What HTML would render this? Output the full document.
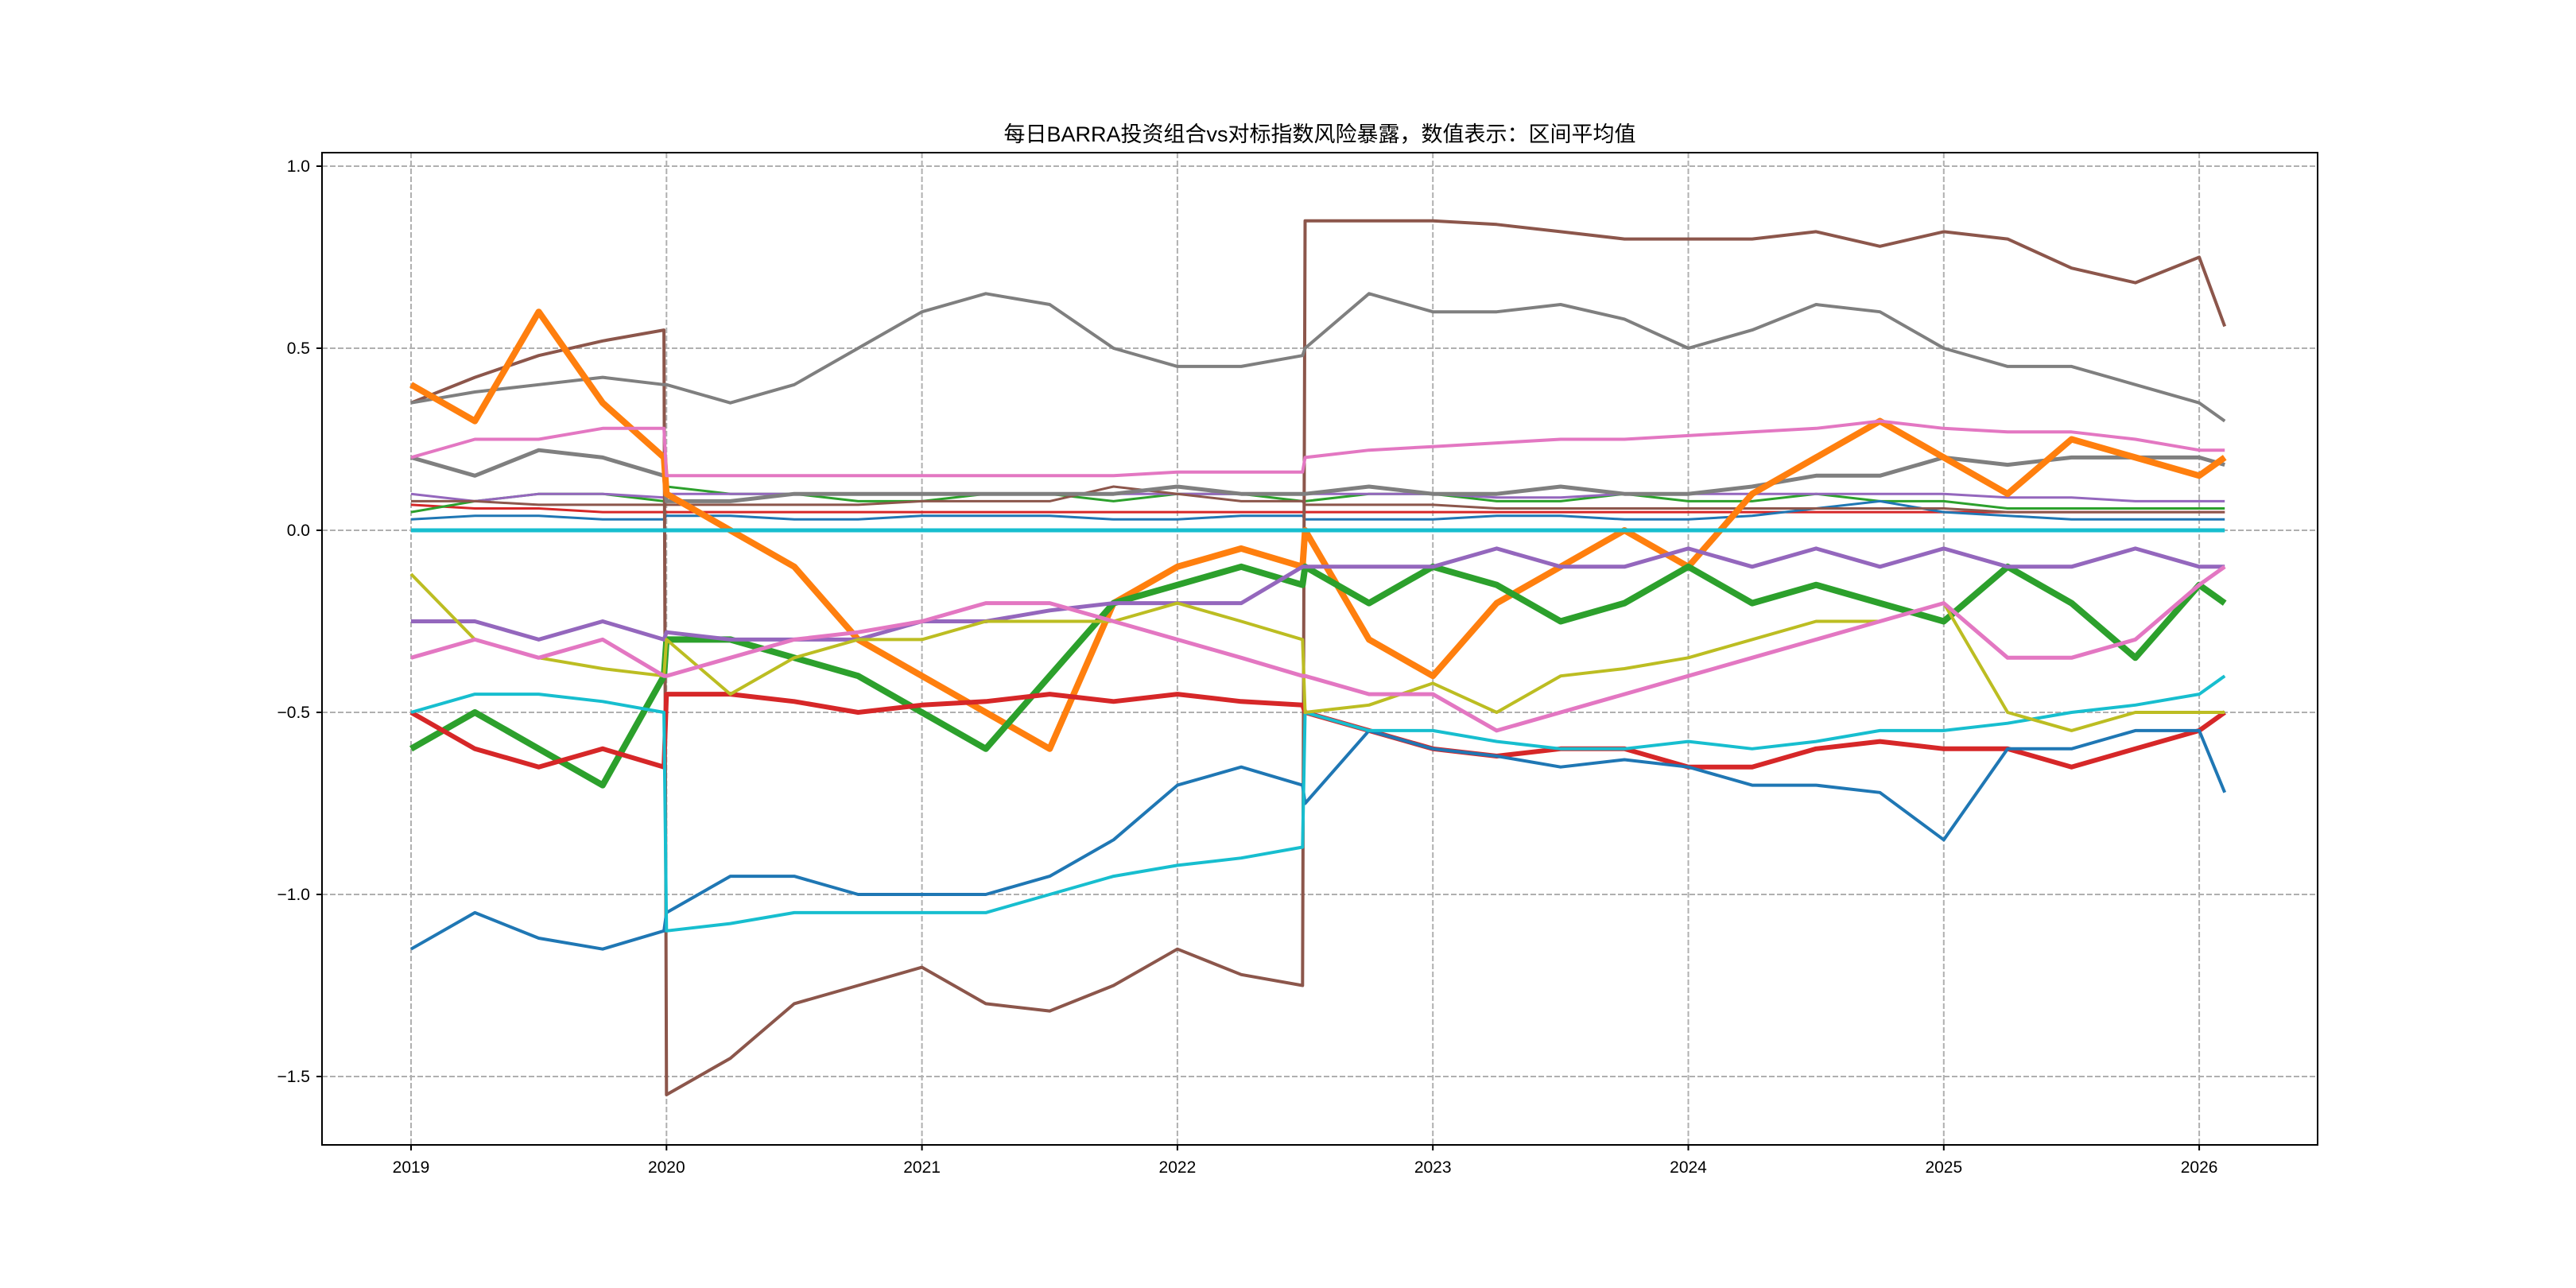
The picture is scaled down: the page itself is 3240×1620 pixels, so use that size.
<!DOCTYPE html>
<html><head><meta charset="utf-8">
<style>
html,body{margin:0;padding:0;background:#fff;}
svg{display:block;font-family:"Liberation Sans","Noto Sans CJK SC",sans-serif;}
</style></head>
<body>
<svg id="chart" width="3240" height="1620" viewBox="0 0 3240 1620" xmlns="http://www.w3.org/2000/svg">
<rect x="0" y="0" width="3240" height="1620" fill="#fff"/>
<text x="1660" y="178" text-anchor="middle" font-size="27" fill="#000">每日BARRA投资组合vs对标指数风险暴露，数值表示：区间平均值</text>
<g id="grid"></g>
<g id="series"></g>
<rect x="405" y="192" width="2510" height="1248" fill="none" stroke="#000" stroke-width="2"/>
<g id="axes"></g>
</svg>
<script>
const dates=[2019.0,2019.25,2019.5,2019.75,2019.99,2020.0,2020.25,2020.5,2020.75,2021.0,2021.25,2021.5,2021.75,2022.0,2022.25,2022.49,2022.5,2022.75,2023.0,2023.25,2023.5,2023.75,2024.0,2024.25,2024.5,2024.75,2025.0,2025.25,2025.5,2025.75,2026.0,2026.1];
const yTicks=[1.0,0.5,0.0,-0.5,-1.0,-1.5];
const yTickLabels=["1.0","0.5","0.0","−0.5","−1.0","−1.5"];
const xTicks=[2019,2020,2021,2022,2023,2024,2025,2026];
const xTickLabels=["2019","2020","2021","2022","2023","2024","2025","2026"];

const brownVals=[0.35,0.42,0.48,0.52,0.55,-1.55,-1.45,-1.3,-1.25,-1.2,-1.3,-1.32,-1.25,-1.15,-1.22,-1.25,0.85,0.85,0.85,0.84,0.82,0.8,0.8,0.8,0.82,0.78,0.82,0.8,0.72,0.68,0.75,0.56];
const greyVals=[0.35,0.38,0.4,0.42,0.4,0.4,0.35,0.4,0.5,0.6,0.65,0.62,0.5,0.45,0.45,0.48,0.5,0.65,0.6,0.6,0.62,0.58,0.5,0.55,0.62,0.6,0.5,0.45,0.45,0.4,0.35,0.3];
const grey2Vals=[0.2,0.15,0.22,0.2,0.15,0.08,0.08,0.1,0.1,0.1,0.1,0.1,0.1,0.12,0.1,0.1,0.1,0.12,0.1,0.1,0.12,0.1,0.1,0.12,0.15,0.15,0.2,0.18,0.2,0.2,0.2,0.18];
const orangeVals=[0.4,0.3,0.6,0.35,0.2,0.1,0.0,-0.1,-0.3,-0.4,-0.5,-0.6,-0.2,-0.1,-0.05,-0.1,0.0,-0.3,-0.4,-0.2,-0.1,0.0,-0.1,0.1,0.2,0.3,0.2,0.1,0.25,0.2,0.15,0.2];
const greenVals=[-0.6,-0.5,-0.6,-0.7,-0.4,-0.3,-0.3,-0.35,-0.4,-0.5,-0.6,-0.4,-0.2,-0.15,-0.1,-0.15,-0.1,-0.2,-0.1,-0.15,-0.25,-0.2,-0.1,-0.2,-0.15,-0.2,-0.25,-0.1,-0.2,-0.35,-0.15,-0.2];
const redVals=[-0.5,-0.6,-0.65,-0.6,-0.65,-0.45,-0.45,-0.47,-0.5,-0.48,-0.47,-0.45,-0.47,-0.45,-0.47,-0.48,-0.5,-0.55,-0.6,-0.62,-0.6,-0.6,-0.65,-0.65,-0.6,-0.58,-0.6,-0.6,-0.65,-0.6,-0.55,-0.5];
const blueVals=[-1.15,-1.05,-1.12,-1.15,-1.1,-1.05,-0.95,-0.95,-1.0,-1.0,-1.0,-0.95,-0.85,-0.7,-0.65,-0.7,-0.75,-0.55,-0.6,-0.62,-0.65,-0.63,-0.65,-0.7,-0.7,-0.72,-0.85,-0.6,-0.6,-0.55,-0.55,-0.72];
const cyanVals=[-0.5,-0.45,-0.45,-0.47,-0.5,-1.1,-1.08,-1.05,-1.05,-1.05,-1.05,-1.0,-0.95,-0.92,-0.9,-0.87,-0.5,-0.55,-0.55,-0.58,-0.6,-0.6,-0.58,-0.6,-0.58,-0.55,-0.55,-0.53,-0.5,-0.48,-0.45,-0.4];
const cyanZeroVals=[0,0,0,0,0,0,0,0,0,0,0,0,0,0,0,0,0,0,0,0,0,0,0,0,0,0,0,0,0,0,0,0];
const purpleVals=[-0.25,-0.25,-0.3,-0.25,-0.3,-0.28,-0.3,-0.3,-0.3,-0.25,-0.25,-0.22,-0.2,-0.2,-0.2,-0.1,-0.1,-0.1,-0.1,-0.05,-0.1,-0.1,-0.05,-0.1,-0.05,-0.1,-0.05,-0.1,-0.1,-0.05,-0.1,-0.1];
const oliveVals=[-0.12,-0.3,-0.35,-0.38,-0.4,-0.3,-0.45,-0.35,-0.3,-0.3,-0.25,-0.25,-0.25,-0.2,-0.25,-0.3,-0.5,-0.48,-0.42,-0.5,-0.4,-0.38,-0.35,-0.3,-0.25,-0.25,-0.2,-0.5,-0.55,-0.5,-0.5,-0.5];
const pinkVals=[-0.35,-0.3,-0.35,-0.3,-0.4,-0.4,-0.35,-0.3,-0.28,-0.25,-0.2,-0.2,-0.25,-0.3,-0.35,-0.4,-0.4,-0.45,-0.45,-0.55,-0.5,-0.45,-0.4,-0.35,-0.3,-0.25,-0.2,-0.35,-0.35,-0.3,-0.15,-0.1];
const pink2Vals=[0.2,0.25,0.25,0.28,0.28,0.15,0.15,0.15,0.15,0.15,0.15,0.15,0.15,0.16,0.16,0.16,0.2,0.22,0.23,0.24,0.25,0.25,0.26,0.27,0.28,0.3,0.28,0.27,0.27,0.25,0.22,0.22];
const smallRedVals=[0.07,0.06,0.06,0.05,0.05,0.05,0.05,0.05,0.05,0.05,0.05,0.05,0.05,0.05,0.05,0.05,0.05,0.05,0.05,0.05,0.05,0.05,0.05,0.05,0.05,0.05,0.05,0.05,0.05,0.05,0.05,0.05];
const smallGreenVals=[0.05,0.08,0.1,0.1,0.08,0.12,0.1,0.1,0.08,0.08,0.1,0.1,0.08,0.1,0.1,0.08,0.08,0.1,0.1,0.08,0.08,0.1,0.08,0.08,0.1,0.08,0.08,0.06,0.06,0.06,0.06,0.06];
const smallPurpleVals=[0.1,0.08,0.1,0.1,0.09,0.1,0.1,0.1,0.1,0.1,0.1,0.1,0.1,0.1,0.1,0.1,0.1,0.1,0.1,0.09,0.09,0.1,0.1,0.1,0.1,0.1,0.1,0.09,0.09,0.08,0.08,0.08];
const smallBlueVals=[0.03,0.04,0.04,0.03,0.03,0.04,0.04,0.03,0.03,0.04,0.04,0.04,0.03,0.03,0.04,0.04,0.03,0.03,0.03,0.04,0.04,0.03,0.03,0.04,0.06,0.08,0.05,0.04,0.03,0.03,0.03,0.03];
const smallBrownVals=[0.08,0.08,0.07,0.07,0.07,0.07,0.07,0.07,0.07,0.08,0.08,0.08,0.12,0.1,0.08,0.08,0.07,0.07,0.07,0.06,0.06,0.06,0.06,0.06,0.06,0.06,0.06,0.05,0.05,0.05,0.05,0.05];

const NS="http://www.w3.org/2000/svg";
function xs(t){return 517+(t-2019)*321.3;}
function ys(v){return 667-v*458;}
const grid=document.getElementById('grid'),axes=document.getElementById('axes'),ser=document.getElementById('series');

yTicks.forEach((v,i)=>{
  const y=ys(v);
  const g=document.createElementNS(NS,'line');
  g.setAttribute('x1',405);g.setAttribute('x2',2915);g.setAttribute('y1',y);g.setAttribute('y2',y);
  g.setAttribute('stroke','#b0b0b0');g.setAttribute('stroke-width',2);g.setAttribute('stroke-dasharray','7,3');
  
  
  grid.appendChild(g);
  const t=document.createElementNS(NS,'line');
  t.setAttribute('x1',398);t.setAttribute('x2',405);t.setAttribute('y1',y);t.setAttribute('y2',y);
  t.setAttribute('stroke','#000');t.setAttribute('stroke-width',2);
  
  
  axes.appendChild(t);
  const l=document.createElementNS(NS,'text');
  l.setAttribute('x',390);l.setAttribute('y',y+7);l.setAttribute('text-anchor','end');l.setAttribute('font-size',21);
  l.textContent=yTickLabels[i];
  
  
  axes.appendChild(l);
});
xTicks.forEach((v,i)=>{
  const x=xs(v);
  const g=document.createElementNS(NS,'line');
  g.setAttribute('x1',x);g.setAttribute('x2',x);g.setAttribute('y1',192);g.setAttribute('y2',1440);
  g.setAttribute('stroke','#b0b0b0');g.setAttribute('stroke-width',2);g.setAttribute('stroke-dasharray','7,3');
  
  
  grid.appendChild(g);
  const t=document.createElementNS(NS,'line');
  t.setAttribute('x1',x);t.setAttribute('x2',x);t.setAttribute('y1',1440);t.setAttribute('y2',1447);
  t.setAttribute('stroke','#000');t.setAttribute('stroke-width',2);
  
  
  axes.appendChild(t);
  const l=document.createElementNS(NS,'text');
  l.setAttribute('x',x);l.setAttribute('y',1475);l.setAttribute('text-anchor','middle');l.setAttribute('font-size',21);
  l.textContent=xTickLabels[i];
  
  
  axes.appendChild(l);
});

const seriesList=[
 [smallRedVals,'#d62728',3,'series-small-red'],
 [smallGreenVals,'#2ca02c',3,'series-small-green'],
 [smallPurpleVals,'#9467bd',3,'series-small-purple'],
 [smallBlueVals,'#1f77b4',3,'series-small-blue'],
 [smallBrownVals,'#8c564b',3,'series-small-brown'],
 [brownVals,'#8c564b',4,'series-brown'],
 [greyVals,'#7f7f7f',4,'series-grey'],
 [grey2Vals,'#7f7f7f',5,'series-grey-2'],
 [orangeVals,'#ff7f0e',8,'series-orange'],
 [greenVals,'#2ca02c',8,'series-green'],
 [redVals,'#d62728',6,'series-red'],
 [blueVals,'#1f77b4',4,'series-blue'],
 [cyanVals,'#17becf',4,'series-cyan'],
 [purpleVals,'#9467bd',5,'series-purple'],
 [oliveVals,'#bcbd22',4,'series-olive'],
 [pinkVals,'#e377c2',5,'series-pink'],
 [pink2Vals,'#e377c2',4,'series-pink-2'],
 [cyanZeroVals,'#17becf',5,'series-cyan-zero']
];
seriesList.forEach(s=>{
  const p=document.createElementNS(NS,'polyline');
  p.setAttribute('points',dates.map((d,i)=>xs(d).toFixed(1)+','+ys(s[0][i]).toFixed(1)).join(' '));
  p.setAttribute('fill','none');p.setAttribute('stroke',s[1]);p.setAttribute('stroke-width',s[2]);
  p.setAttribute('stroke-linejoin','round');
  
  
  ser.appendChild(p);
});
</script>
</body></html>
